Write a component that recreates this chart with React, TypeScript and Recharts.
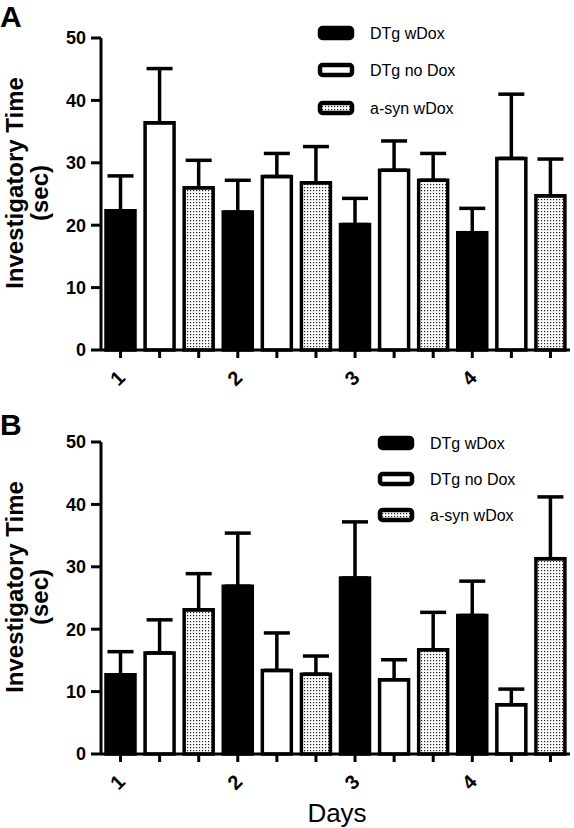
import React from 'react';
import { BarChart, Bar, XAxis, YAxis, ErrorBar, Cell } from 'recharts';

const FONT = '"Liberation Sans", Arial, Helvetica, sans-serif';

// categories
const days = ['1', '2', '3', '4'];
const groups = ['DTg wDox', 'DTg no Dox', 'a-syn wDox'];
const yTicks = [0, 10, 20, 30, 40, 50];

// Panel A: means and upper error (sec)
const meanA_wDox = [22.3, 22.1, 20.1, 18.8];
const errA_wDox = [5.6, 5.1, 4.2, 3.9];
const meanA_noDox = [36.4, 27.8, 28.8, 30.7];
const errA_noDox = [8.7, 3.7, 4.7, 10.3];
const meanA_asyn = [26.0, 26.8, 27.2, 24.7];
const errA_asyn = [4.4, 5.8, 4.3, 5.9];

// Panel B: means and upper error (sec)
const meanB_wDox = [12.7, 26.9, 28.2, 22.2];
const errB_wDox = [3.7, 8.5, 9.0, 5.5];
const meanB_noDox = [16.2, 13.4, 11.9, 7.9];
const errB_noDox = [5.3, 6.0, 3.2, 2.5];
const meanB_asyn = [23.1, 12.8, 16.7, 31.3];
const errB_asyn = [5.8, 2.9, 6.0, 9.9];

type Row = { key: string; group: number; value: number; err: [number, number] };

function buildRows(means: number[][], errs: number[][]): Row[] {
  const rows: Row[] = [];
  days.forEach((d, i) => {
    groups.forEach((_, j) => {
      rows.push({ key: `${d}|${j}`, group: j, value: means[j][i], err: [0, errs[j][i]] });
    });
  });
  return rows;
}

const rowsA = buildRows([meanA_wDox, meanA_noDox, meanA_asyn], [errA_wDox, errA_noDox, errA_asyn]);
const rowsB = buildRows([meanB_wDox, meanB_noDox, meanB_asyn], [errB_wDox, errB_noDox, errB_asyn]);

const DayTick = (props: any) => {
  const { x, y, payload } = props;
  const [d, g] = String(payload.value).split('|');
  if (g !== '0') return <g />;
  const cx = x - 3;
  const cy = y + 18;
  return (
    <text
      x={cx}
      y={cy}
      transform={`rotate(-45 ${cx} ${cy})`}
      textAnchor="middle"
      dominantBaseline="central"
      fontSize={20}
      fontWeight="bold"
      fill="#000"
      fontFamily={FONT}
    >
      {d}
    </text>
  );
};

function Dots({ id }: { id: string }) {
  return (
    <pattern id={id} width={3} height={3} patternUnits="userSpaceOnUse">
      <rect x={0} y={0} width={3} height={3} fill="#fff" />
      <rect x={1} y={1} width={1.2} height={1.2} fill="#222" />
    </pattern>
  );
}

function Panel(props: {
  top: number;
  letter: string;
  rows: Row[];
  pid: string;
  legendX: number;
  legendYs: number[];
  letterY: number;
  showDays: boolean;
}) {
  const { top, letter, rows, pid, legendX, legendYs, letterY, showDays } = props;
  const fills = ['#000', '#fff', `url(#${pid})`];
  return (
    <div style={{ position: 'absolute', left: 0, top, width: 574, height: 424 }}>
      <BarChart
        width={574}
        height={400}
        data={rows}
        margin={{ top: 38, right: 4, bottom: 0, left: 41 }}
        barCategoryGap={0}
      >
        <defs>
          <Dots id={pid} />
        </defs>
        <XAxis
          dataKey="key"
          interval={0}
          height={50}
          tickSize={8}
          tickMargin={2}
          axisLine={{ stroke: '#000', strokeWidth: 3 }}
          tickLine={{ stroke: '#000', strokeWidth: 3 }}
          tick={<DayTick />}
        />
        <YAxis
          domain={[0, 50]}
          ticks={yTicks}
          width={60}
          tickSize={10}
          tickMargin={5}
          axisLine={{ stroke: '#000', strokeWidth: 3 }}
          tickLine={{ stroke: '#000', strokeWidth: 3 }}
          tick={{ fontSize: 18, fontWeight: 'bold', fill: '#000', fontFamily: FONT }}
        />
        <Bar dataKey="value" barSize={29} stroke="#000" strokeWidth={3.5} isAnimationActive={false}>
          {rows.map((r) => (
            <Cell key={r.key} fill={fills[r.group]} />
          ))}
          <ErrorBar dataKey="err" width={13} strokeWidth={3.5} stroke="#000" direction="y" isAnimationActive={false} />
        </Bar>
      </BarChart>
      <svg
        width={574}
        height={424}
        style={{ position: 'absolute', left: 0, top: 0, pointerEvents: 'none' }}
        fontFamily={FONT}
      >
        <defs>
          <Dots id={pid + 'L'} />
        </defs>
        <text x={0} y={letterY} fontSize={30} fontWeight="bold" fill="#000">
          {letter}
        </text>
        <text
          x={23}
          y={183}
          transform="rotate(-90 23 183)"
          textAnchor="middle"
          fontSize={24}
          fontWeight="bold"
          fill="#000"
        >
          Investigatory Time
        </text>
        <text
          x={48}
          y={193}
          transform="rotate(-90 48 193)"
          textAnchor="middle"
          fontSize={24}
          fontWeight="bold"
          fill="#000"
        >
          (sec)
        </text>
        {groups.map((g, j) => (
          <g key={g}>
            <rect
              x={legendX + 2}
              y={legendYs[j] - 5}
              width={32}
              height={10}
              rx={2.5}
              fill={j === 0 ? '#000' : j === 1 ? '#fff' : `url(#${pid}L)`}
              stroke="#000"
              strokeWidth={4.5}
            />
            <text x={legendX + 52} y={legendYs[j]} dominantBaseline="central" fontSize={16} fill="#000">
              {g}
            </text>
          </g>
        ))}
        {showDays && (
          <text x={337} y={418} textAnchor="middle" fontSize={26} fill="#000">
            Days
          </text>
        )}
      </svg>
    </div>
  );
}

export default function App() {
  return (
    <div
      style={{
        position: 'absolute',
        left: 0,
        top: 0,
        width: 574,
        height: 828,
        background: '#fff',
        overflow: 'hidden',
        fontFamily: FONT,
      }}
    >
      <Panel top={0} letter="A" rows={rowsA} pid="dotsA" legendX={318} legendYs={[33, 70, 108]} letterY={27} showDays={false} />
      <Panel top={404} letter="B" rows={rowsB} pid="dotsB" legendX={378} legendYs={[39, 75, 111]} letterY={31} showDays={true} />
    </div>
  );
}
